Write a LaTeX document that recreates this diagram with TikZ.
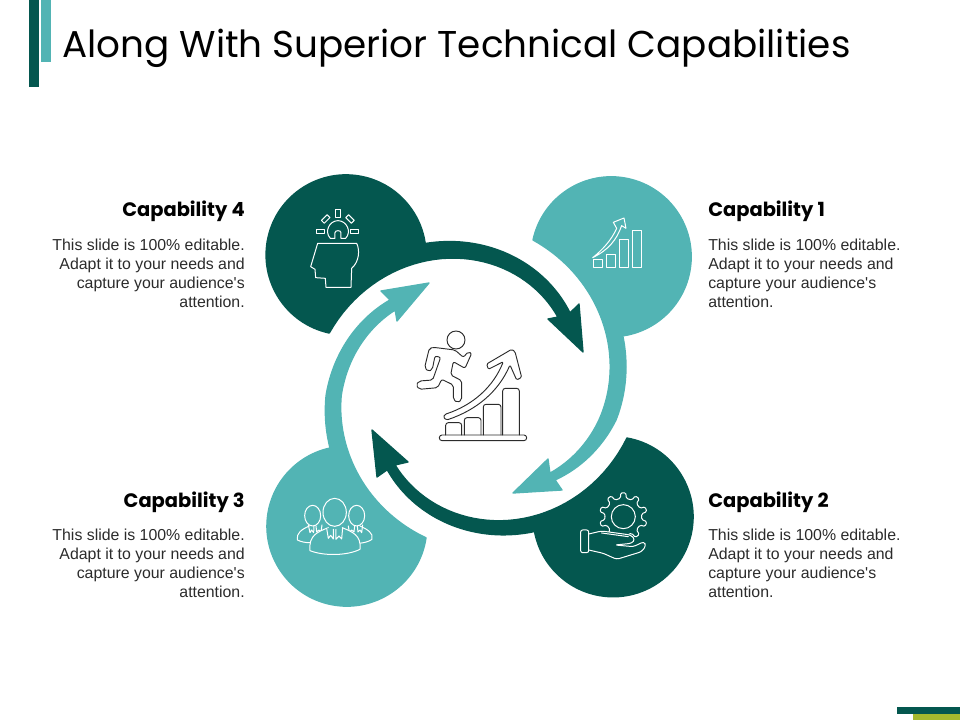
\documentclass[tikz,border=0pt]{standalone}
\usepackage{fontspec}
\usetikzlibrary{calc,positioning}
\setmainfont{Liberation Sans}
\newfontfamily\titlefont{Poppins}
\definecolor{capdark}{HTML}{04574F}
\definecolor{capteal}{HTML}{52B4B4}
\definecolor{capgreen}{HTML}{A5B92E}
\definecolor{capink}{HTML}{2B2B2B}
% edge of an arrow band: start angle, start radius, end angle, end radius
\newcommand{\capspiral}[4]{-- plot[domain=#1:#3,samples=40,variable=\t] ({476+(#2+(#4-#2)*(\t-(#1))/(#3-(#1)))*cos(\t)},{389+(#2+(#4-#2)*(\t-(#1))/(#3-(#1)))*sin(\t)})}
\newcommand{\capbodytext}{This slide is 100\% editable.\\Adapt it to your needs and\\capture your audience\textquotesingle s\\attention.}
\begin{document}
\begin{tikzpicture}[line join=round,line cap=round,x=0.75pt,y=-0.75pt]
	\tikzset{capdarkfill/.style={fill=capdark,draw=capdark,line width=1pt}}
	\tikzset{captealfill/.style={fill=capteal,draw=capteal,line width=1pt}}
	\tikzset{caphead/.style={font=\titlefont\fontsize{14.6}{18}\selectfont\bfseries,inner sep=0pt,text=black}}
	\tikzset{capbody/.style={font=\fontsize{11.9}{14.25}\selectfont,inner sep=0pt,text=capink}}
	\tikzset{iconline/.style={draw=white,line width=0.75pt}}
	\tikzset{runline/.style={draw=capink,line width=0.7pt}}
	\useasboundingbox (0,0) rectangle (960,720);
	% corner bars
	\fill[capdark] (29,0) rectangle (39,87);
	\fill[capteal] (41,0) rectangle (51,62);
	\fill[capdark] (897,707) rectangle (960,714);
	\fill[capgreen] (913,714) rectangle (960,720);
	\node[anchor=base west,inner sep=0pt,font=\titlefont\fontsize{28}{32}\selectfont] (title) at (62,58) {Along With Superior Technical Capabilities};
	% the four circles with their arrows
	\path[capdarkfill] (329,333) arc[start angle=-257.7,end angle=-8.6,radius=80]
		\capspiral{-109}{154}{-39}{121}
		-- (579,304) -- (583,352) -- (548,319)
		\capspiral{-41.3}{109}{-159}{157} -- cycle;
	\path[captealfill] (533,240) arc[start angle=-167.9,end angle=82.2,radius=80]
		\capspiral{-19.5}{156}{12.5}{143.4}
		\capspiral{12.5}{143.4}{49}{120.5}
		-- (562,490) -- (513,493) -- (548,459)
		\capspiral{48.7}{112}{14.1}{126.8}
		\capspiral{14.1}{126.8}{-69}{159.5} -- cycle;
	\path[capdarkfill] (627,438) arc[start angle=-80,end angle=169.2,radius=80]
		\capspiral{67.9}{154}{137.7}{120}
		-- (377,477) -- (372,430) -- (408,462)
		\capspiral{136.8}{111}{18}{158.7} -- cycle;
	\path[captealfill] (426,538) arc[start angle=8.5,end angle=258.4,radius=80]
		\capspiral{158}{157.5}{177.7}{150}
		\capspiral{177.7}{150}{226}{123.8}
		-- (381,291) -- (429,283) -- (397,321)
		\capspiral{224.3}{113}{177}{135}
		\capspiral{177}{135}{108.6}{157} -- cycle;
	% head with bulb
	\begin{scope}[shift={(250,160)},scale=0.3333]
		\draw[iconline] (203,250) -- (320,250) .. controls (330,270) and (328,305) .. (305,325) -- (303,382) -- (228,382) -- (226,355) -- (197,353) -- (195,328) -- (182,320) -- cycle;
		\draw[iconline] (241,235) .. controls (222,215) and (238,182) .. (264,182) .. controls (290,182) and (306,215) .. (287,235) -- (273,235) -- (273,218) .. controls (273,210) and (255,210) .. (255,218) -- (255,235) -- cycle;
		\draw[iconline] (256,150) rectangle (272,173);
		\draw[iconline] (199,208) rectangle (223,220);
		\draw[iconline] (303,208) rectangle (326,220);
		\draw[iconline,rotate around={45:(227,177)}] (215,171) rectangle (239,183);
		\draw[iconline,rotate around={-45:(300,177)}] (288,171) rectangle (312,183);
	\end{scope}
	% growth chart
	\begin{scope}[shift={(480,160)},scale=0.3333]
		\draw[iconline] (340,298) rectangle (367,323);
		\draw[iconline] (380,284) rectangle (406,323);
		\draw[iconline] (418,238) rectangle (445,323);
		\draw[iconline] (458,211) rectangle (485,323);
		\draw[iconline] (338,293) .. controls (365,272) and (395,240) .. (410,205) -- (400,187) -- (432,174) -- (438,205) -- (425,197) .. controls (410,240) and (385,270) .. (338,293) -- cycle;
	\end{scope}
	% gear on a hand
	\begin{scope}[shift={(500,430)},scale=0.3333]
		\draw[iconline] (370,260) circle[radius=36];
		\foreach \a in {-90,-54,-18,18,54,126,162,198,234}
			\draw[iconline,rounded corners=1pt] ($(370,260)+(\a-18:55)$) -- ($(370,260)+(\a-9:56)$) -- ($(370,260)+(\a-6:72)$) -- ($(370,260)+(\a+6:72)$) -- ($(370,260)+(\a+9:56)$) -- ($(370,260)+(\a+18:55)$);
		\draw[iconline,fill=capdark,rounded corners=2pt] (266,312) -- (305,303) -- (392,315) -- (405,328) -- (395,340) -- (345,345) -- (400,350) -- (432,335) -- (438,347) -- (425,365) -- (350,388) -- (310,370) -- (266,360);
		\draw[iconline] (305,309) -- (385,320);
		\draw[iconline,fill=capdark,rounded corners=1.5pt] (242,300) rectangle (266,368);
	\end{scope}
	% group of people
	\begin{scope}[shift={(260,420)},scale=0.3333]
		\draw[iconline] (158,287) ellipse[x radius=24,y radius=31];
		\draw[iconline] (290,287) ellipse[x radius=24,y radius=31];
		\draw[iconline] (148,318) .. controls (125,328) and (108,340) .. (112,360) .. controls (125,366) and (135,368) .. (150,368);
		\draw[iconline] (300,318) .. controls (322,328) and (342,340) .. (336,358) .. controls (325,366) and (312,368) .. (298,370);
		\draw[iconline] (145,315) -- (150,338) -- (155,330) -- (161,338) -- (162,318);
		\draw[iconline] (168,318) -- (170,336) -- (177,330) -- (183,336) -- (186,315);
		\draw[iconline] (265,318) -- (268,336) -- (275,330) -- (282,336) -- (284,318);
		\draw[iconline] (292,318) -- (294,336) -- (300,330) -- (305,338) -- (308,315);
		\draw[iconline,fill=capteal] (224,277) ellipse[x radius=35,y radius=42];
		\draw[iconline,fill=capteal] (205,323) .. controls (175,335) and (145,345) .. (150,392) .. controls (190,408) and (260,408) .. (300,388) .. controls (305,345) and (275,335) .. (247,323);
		\draw[iconline,fill=capteal] (200,325) -- (205,355) -- (212,346) -- (220,357) -- (220,328);
		\draw[iconline,fill=capteal] (228,328) -- (228,358) -- (237,348) -- (245,357) -- (248,323);
	\end{scope}
	% climbing runner
	\begin{scope}[shift={(400,320)},scale=0.3333]
		\draw[runline] (168,60) circle[radius=27];
		\draw[runline,rounded corners=1.5pt] (100,82) -- (165,90) -- (190,112) -- (205,95) -- (215,100) -- (195,145) -- (160,125) -- (152,165) -- (185,182) -- (185,240) -- (172,248) -- (160,238) -- (160,195) -- (125,178) -- (113,203) -- (58,208) -- (48,195) -- (58,183) -- (98,180) -- (122,112) -- (105,108) -- (97,148) -- (85,155) -- (74,142) -- (88,85) -- cycle;
		\draw[runline,rounded corners=1pt] (135,283) .. controls (220,255) and (280,200) .. (310,125) -- (265,148) -- (260,132) -- (335,88) -- (345,95) -- (365,172) -- (350,180) -- (330,135) .. controls (295,215) and (230,270) .. (140,300) -- (130,292) -- cycle;
		\draw[runline,rounded corners=2pt] (137,345) -- (137,308) -- (185,308) -- (185,345);
		\draw[runline,rounded corners=2pt] (193,345) -- (193,293) -- (243,293) -- (243,345);
		\draw[runline,rounded corners=2pt] (250,345) -- (250,253) -- (303,253) -- (303,345);
		\draw[runline,rounded corners=2pt] (308,345) -- (308,205) -- (358,205) -- (358,345);
		\draw[runline,rounded corners=2pt] (118,345) rectangle (380,362);
	\end{scope}
	% texts
	\node[caphead,anchor=base west] (cap1) at (708,217) {Capability 1};
	\node[capbody,align=left,below=16pt of cap1.base west,anchor=north west] (text1) {\capbodytext};
	\node[caphead,anchor=base west] (cap2) at (708,507) {Capability 2};
	\node[capbody,align=left,below=16pt of cap2.base west,anchor=north west] (text2) {\capbodytext};
	\node[caphead,anchor=base east] (cap3) at (245,507) {Capability 3};
	\node[capbody,align=right,below=16pt of cap3.base east,anchor=north east] (text3) {\capbodytext};
	\node[caphead,anchor=base east] (cap4) at (245,217) {Capability 4};
	\node[capbody,align=right,below=16pt of cap4.base east,anchor=north east] (text4) {\capbodytext};
\end{tikzpicture}
\end{document}
